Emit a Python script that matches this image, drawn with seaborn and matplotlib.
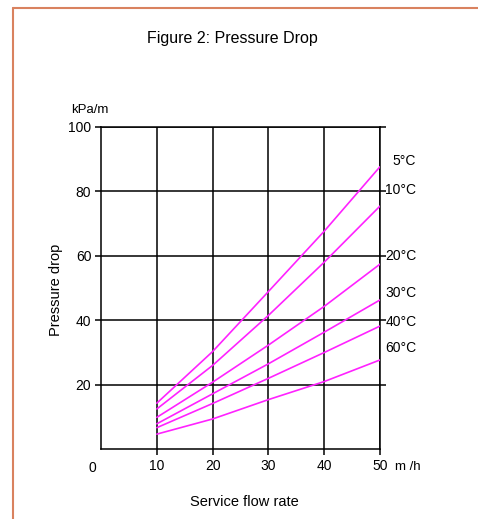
import matplotlib
matplotlib.use("Agg")
import matplotlib.pyplot as plt
from matplotlib.lines import Line2D
import seaborn as sns
import pandas as pd

# ---- data ----
flow = [10, 20, 30, 40, 50]
temps = ["5°C", "10°C", "20°C", "30°C", "40°C", "60°C"]
drop_5 = [14.3, 30.3, 48.9, 67.6, 87.6]
drop_10 = [12.5, 26.0, 41.5, 58.0, 75.4]
drop_20 = [9.9, 20.8, 32.3, 44.3, 57.4]
drop_30 = [7.9, 17.2, 26.5, 36.3, 46.3]
drop_40 = [6.7, 14.2, 22.0, 30.0, 38.2]
drop_60 = [4.7, 9.4, 15.4, 21.0, 27.7]
label_y = [89.4, 80.5, 59.8, 48.3, 39.6, 31.3]
x_ticks = [10, 20, 30, 40, 50]
y_ticks = [20, 40, 60, 80, 100]

series = [drop_5, drop_10, drop_20, drop_30, drop_40, drop_60]
df = pd.DataFrame(
    [(f, v, t) for t, vals in zip(temps, series) for f, v in zip(flow, vals)],
    columns=["flow", "drop", "temp"],
)

sns.set_style("white")
plt.rcParams["font.family"] = ["Liberation Sans", "DejaVu Sans"]
plt.rcParams["text.color"] = "black"
plt.rcParams["xtick.labelcolor"] = "black"
plt.rcParams["ytick.labelcolor"] = "black"

fig = plt.figure(figsize=(4.78, 5.19), dpi=100)
ax = fig.add_axes([0.2113, 0.1343, 0.5837, 0.6216])

sns.lineplot(data=df, x="flow", y="drop", hue="temp",
             palette=["#FF22FF"] * len(temps), linewidth=1.2,
             legend=False, ax=ax, zorder=3)

ax.set_xlim(0, 50)
ax.set_ylim(0, 100)
ax.set_xticks(x_ticks)
ax.set_yticks(y_ticks)
ax.grid(True, color="black", linewidth=1.1, zorder=1)
for s in ax.spines.values():
    s.set_color("black")
    s.set_linewidth(1.1)
ax.tick_params(axis="both", which="both", direction="out", length=4,
               width=1.1, color="black", labelcolor="black", labelsize=10,
               pad=3, left=True, bottom=True, right=True, top=False)
ax.tick_params(axis="y", labelright=False)
ax.set_xlabel("")
ax.set_ylabel("")

# "0" at the corner
ax.text(-1.6, -3.5, "0", fontsize=10, ha="center", va="top", color="black")
# unit labels
ax.text(52.7, -3.5, "m /h", fontsize=9.5, ha="left", va="top", color="black")
ax.text(-2.0, 105.2, "kPa/m", fontsize=9.5, ha="center", va="center",
        color="black")

# curve labels
for t, yv in zip(temps, label_y):
    ax.text(56.5, yv, t, fontsize=10, ha="right", va="center", color="black")

# titles
fig.text(232 / 478, 1 - 38 / 519, "Figure 2: Pressure Drop",
         fontsize=11.5, ha="center", va="center", color="black")
fig.text(244 / 478, 1 - 502 / 519, "Service flow rate",
         fontsize=10.5, ha="center", va="center", color="black")
fig.text(56 / 478, 1 - 290 / 519, "Pressure drop", rotation=90,
         fontsize=10.5, ha="center", va="center", color="black")

# page border (top and left)
bc = "#D9825F"
fig.add_artist(Line2D([13 / 478, 13 / 478], [0, 1 - 8 / 519],
                      transform=fig.transFigure, color=bc, linewidth=1.5))
fig.add_artist(Line2D([13 / 478, 1], [1 - 8 / 519, 1 - 8 / 519],
                      transform=fig.transFigure, color=bc, linewidth=1.5))

fig.savefig("out.png", dpi=100)
